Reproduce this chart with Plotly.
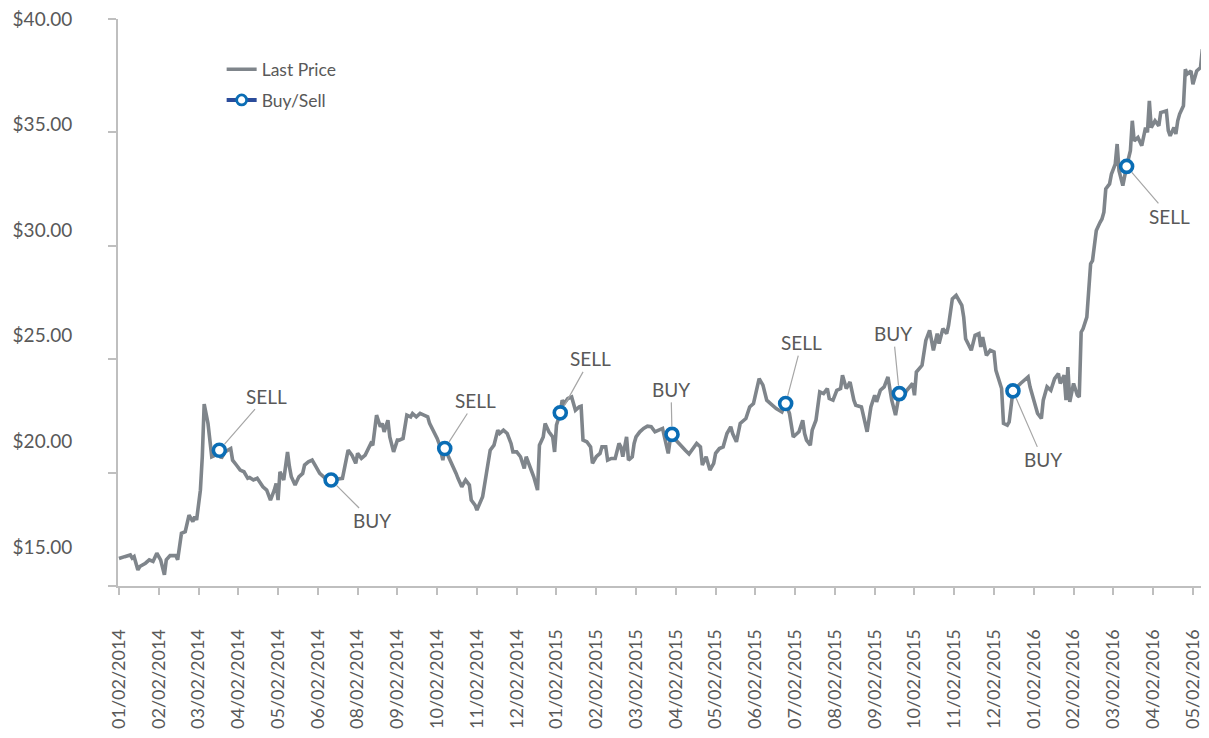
import numpy as np
import plotly.graph_objects as go

# ---- data ----
trading_day = [
    0, 1, 3, 6, 7, 8, 10, 11, 14, 16, 18, 20, 22, 24, 25, 27, 30, 31, 33, 35, 37, 39, 40, 41, 43, 44, 45, 47, 48, 49,
    51, 53, 54, 56, 59, 60, 62, 64, 66, 68, 69, 71, 73, 75, 76, 78, 80, 82, 83, 84, 85, 87, 89, 90, 91, 93, 95, 97, 98, 100,
    102, 104, 106, 109, 112, 118, 121, 123, 125, 126, 128, 130, 133, 134, 136, 138, 139, 140, 141, 142, 143, 145, 147, 148, 150, 152, 154, 155, 157, 159,
    161, 163, 164, 166, 168, 169, 171, 172, 174, 176, 178, 179, 181, 183, 185, 186, 188, 189, 191, 192, 194, 196, 198, 200, 201, 203, 205, 207, 208, 210,
    212, 214, 215, 217, 219, 221, 222, 224, 225, 227, 229, 230, 231, 233, 234, 235, 237, 239, 241, 243, 244, 245, 247, 249, 250, 252, 254, 255, 257, 258,
    260, 262, 264, 265, 266, 268, 269, 271, 272, 273, 275, 277, 279, 281, 283, 285, 287, 288, 290, 291, 292, 294, 297, 299, 301, 303, 305, 307, 308, 310,
    312, 314, 315, 317, 319, 321, 323, 324, 326, 328, 330, 331, 333, 335, 337, 338, 340, 342, 344, 345, 347, 350, 352, 354, 356, 357, 359, 361, 362, 363,
    365, 366, 368, 370, 372, 374, 375, 377, 379, 381, 382, 384, 386, 388, 389, 392, 394, 395, 397, 399, 400, 402, 404, 406, 408, 410, 412, 414, 416, 419,
    420, 421, 424, 426, 428, 430, 432, 433, 435, 437, 438, 440, 442, 445, 446, 447, 450, 452, 454, 455, 456, 458, 460, 462, 463, 465, 466, 467, 469, 470,
    472, 476, 480, 481, 483, 485, 487, 488, 490, 492, 494, 496, 497, 499, 500, 501, 502, 504, 506, 507, 508, 509, 511, 512, 513, 514, 515, 516, 518, 519,
    520, 521, 523, 524, 526, 527, 528, 530, 532, 534, 535, 536, 538, 540, 542, 543, 544, 545, 547, 549, 550, 553, 554, 555, 557, 558, 559, 560, 562, 563,
    564, 566, 567, 569, 571, 572, 573, 575,
]
last_price = [
    14.45, 14.47, 14.54, 14.62, 14.47, 14.54, 13.91, 14.07, 14.23, 14.39, 14.31, 14.70, 14.39, 13.68, 14.39, 14.59, 14.59, 14.39, 15.65, 15.72, 16.51, 16.20, 16.43, 16.28, 17.69, 19.27, 21.76, 20.85, 20.21, 19.27,
    19.35, 19.58, 19.19, 19.50, 19.66, 19.11, 18.88, 18.64, 18.56, 18.25, 18.29, 18.17, 18.25, 18.01, 17.85, 17.69, 17.22, 17.69, 18.01, 17.22, 18.56, 18.17, 19.50, 18.80, 18.32, 17.93, 18.32, 18.48, 18.88, 19.03,
    19.11, 18.80, 18.48, 18.25, 18.17, 18.25, 19.58, 19.35, 18.96, 19.43, 19.19, 19.35, 19.90, 19.82, 21.24, 20.69, 20.85, 20.45, 20.69, 21.00, 20.21, 19.50, 20.06, 20.06, 20.14, 21.24, 21.16, 21.32, 21.16, 21.32,
    21.24, 21.16, 20.85, 20.53, 20.14, 19.90, 19.11, 19.66, 19.27, 18.96, 18.48, 18.25, 17.85, 18.17, 17.93, 17.22, 16.98, 16.75, 17.22, 17.38, 18.48, 19.58, 19.82, 20.53, 20.37, 20.53, 20.37, 19.90, 19.50, 19.50,
    19.27, 18.72, 19.27, 18.80, 18.32, 17.69, 19.82, 20.21, 20.85, 20.45, 20.21, 19.50, 20.77, 21.35, 21.95, 21.79, 22.03, 22.10, 21.47, 21.63, 21.66, 20.06, 19.98, 19.74, 18.96, 19.27, 19.43, 19.74, 19.74, 19.11,
    19.19, 19.19, 19.90, 19.74, 19.27, 20.21, 19.11, 19.27, 19.90, 20.21, 20.45, 20.61, 20.72, 20.69, 20.45, 20.53, 20.61, 20.21, 19.43, 20.06, 20.33, 20.06, 19.74, 19.58, 19.40, 19.66, 19.90, 19.74, 18.88, 19.27,
    18.64, 18.96, 19.43, 19.66, 19.74, 20.37, 20.69, 20.37, 19.98, 20.85, 21.00, 21.08, 21.63, 21.79, 22.58, 22.97, 22.66, 21.95, 21.79, 21.71, 21.55, 21.39, 21.79, 21.32, 20.21, 20.29, 20.45, 21.00, 20.37, 20.06,
    19.82, 20.53, 21.00, 22.34, 22.26, 22.50, 22.03, 21.95, 22.42, 22.50, 23.13, 22.50, 22.81, 21.95, 21.71, 21.63, 20.77, 20.45, 21.63, 22.18, 21.87, 22.42, 22.58, 23.05, 21.95, 21.24, 22.26, 22.10, 22.42, 22.74,
    22.18, 23.28, 23.60, 24.78, 25.26, 24.31, 25.10, 24.63, 25.34, 25.10, 25.49, 26.75, 26.91, 26.44, 25.88, 24.86, 24.31, 25.02, 25.10, 24.47, 24.94, 24.07, 24.31, 24.23, 23.36, 22.74, 22.50, 20.85, 20.77, 20.92,
    22.39, 22.74, 23.05, 22.58, 21.95, 21.32, 21.08, 21.95, 22.58, 22.42, 22.97, 23.21, 22.74, 23.13, 21.95, 23.52, 21.87, 22.74, 22.18, 22.10, 25.17, 25.33, 25.88, 27.15, 28.41, 28.56, 29.35, 29.98, 30.37, 30.53,
    30.85, 31.95, 32.19, 32.66, 33.13, 34.08, 32.82, 32.11, 33.02, 33.76, 35.18, 34.23, 34.39, 34.00, 34.86, 34.63, 36.12, 34.86, 35.18, 34.94, 35.57, 35.65, 34.71, 34.47, 34.86, 34.55, 35.18, 35.50, 35.89, 37.62,
    37.39, 37.54, 36.91, 37.54, 37.70, 38.57, 37.93, 38.02,
]

signal_day = [53, 112, 172, 233, 292, 352, 412, 472, 532]
signal_label = ["SELL", "BUY", "SELL", "SELL", "BUY", "SELL", "BUY", "BUY", "SELL"]

x_tick_labels = [
    "01/02/2014", "02/02/2014", "03/02/2014", "04/02/2014", "05/02/2014", "06/02/2014", "08/02/2014",
    "09/02/2014", "10/02/2014", "11/02/2014", "12/02/2014", "01/02/2015", "02/02/2015", "03/02/2015",
    "04/02/2015", "05/02/2015", "06/02/2015", "07/02/2015", "08/02/2015", "09/02/2015", "10/02/2015",
    "11/02/2015", "12/02/2015", "01/02/2016", "02/02/2016", "03/02/2016", "04/02/2016", "05/02/2016",
]
days_per_tick = 21
y_tick_values = [15, 20, 25, 30, 35, 40]

# ---- styling / layout (not data) ----
label_offsets = [(47, -54), (41, 41), (31, -48), (30, -54), (-1, -45), (16, -61), (-6, -60), (30, 69), (43, 50)]
FONT = "Lato, 'Noto Sans', sans-serif"
TXT = "#595959"
AXIS = "#bfbfbf"
Y_MIN, Y_MAX = 13.15, 40.0
PAGE_OFFSET = 8  # default body margin of the html page (div starts at 8,8)

price_by_day = dict(zip(trading_day, last_price))
signal_price = [price_by_day[d] for d in signal_day]

fig = go.Figure()
fig.add_trace(go.Scatter(
    x=trading_day, y=last_price, mode="lines", name="Last Price",
    line=dict(color="#7f858b", width=3.6), legendgroup="a",
    hoverinfo="skip",
))
fig.add_trace(go.Scatter(
    x=signal_day, y=signal_price, mode="markers", name="Buy/Sell", showlegend=False,
    marker=dict(symbol="circle", size=12, color="white", line=dict(color="#0a6db5", width=3.6)),
    legendgroup="b",
))
# legend entry for Buy/Sell (line + marker)
fig.add_trace(go.Scatter(
    x=[None], y=[None], mode="lines+markers", name="Buy/Sell",
    line=dict(color="#2b4c9b", width=4),
    marker=dict(symbol="circle", size=10, color="white", line=dict(color="#0a6db5", width=2.8)),
    legendgroup="b",
))

for d, p, lab, (ax, ay) in zip(signal_day, signal_price, signal_label, label_offsets):
    fig.add_annotation(
        x=d, y=p, text=lab, showarrow=True, arrowhead=0, arrowwidth=1.2,
        arrowcolor="#a6a6a6", ax=ax, ay=ay, standoff=8,
        font=dict(family=FONT, size=19, color=TXT),
    )

fig.update_layout(
    width=1209 - PAGE_OFFSET, height=738 - PAGE_OFFSET,
    margin=dict(l=110, r=0, t=11, b=152, autoexpand=False),
    paper_bgcolor="white", plot_bgcolor="white",
    font=dict(family=FONT, color=TXT),
    legend=dict(
        x=0.095, y=0.943, xanchor="left", yanchor="top",
        bgcolor="rgba(0,0,0,0)", font=dict(family=FONT, size=17.5, color=TXT),
        traceorder="grouped", tracegroupgap=5,
    ),
    xaxis=dict(
        range=[-0.5, 575.5], automargin=False,
        tickvals=[i * days_per_tick for i in range(len(x_tick_labels))],
        ticktext=x_tick_labels, tickangle=-90,
        ticks="outside", ticklen=7, tickwidth=1.5, tickcolor=AXIS,
        showline=True, linecolor=AXIS, linewidth=2,
        showgrid=False, zeroline=False,
        tickfont=dict(family=FONT, size=18, color=TXT),
        ticklabelstandoff=27, ticklabeloverflow="allow",
    ),
    yaxis=dict(
        range=[Y_MIN, Y_MAX], automargin=False,
        tickvals=y_tick_values, ticktext=["${:.2f}".format(v) for v in y_tick_values],
        ticks="", showline=True, linecolor=AXIS, linewidth=2,
        showgrid=False, zeroline=False,
        tickfont=dict(family=FONT, size=19, color=TXT),
        ticklabelstandoff=40, ticklabeloverflow="allow",
        minor=dict(tickvals=list(np.linspace(Y_MIN, Y_MAX, 6)), ticks="outside",
                   ticklen=8, tickwidth=1.5, tickcolor=AXIS, showgrid=False),
    ),
    showlegend=True,
)

fig.write_html("out.html")
